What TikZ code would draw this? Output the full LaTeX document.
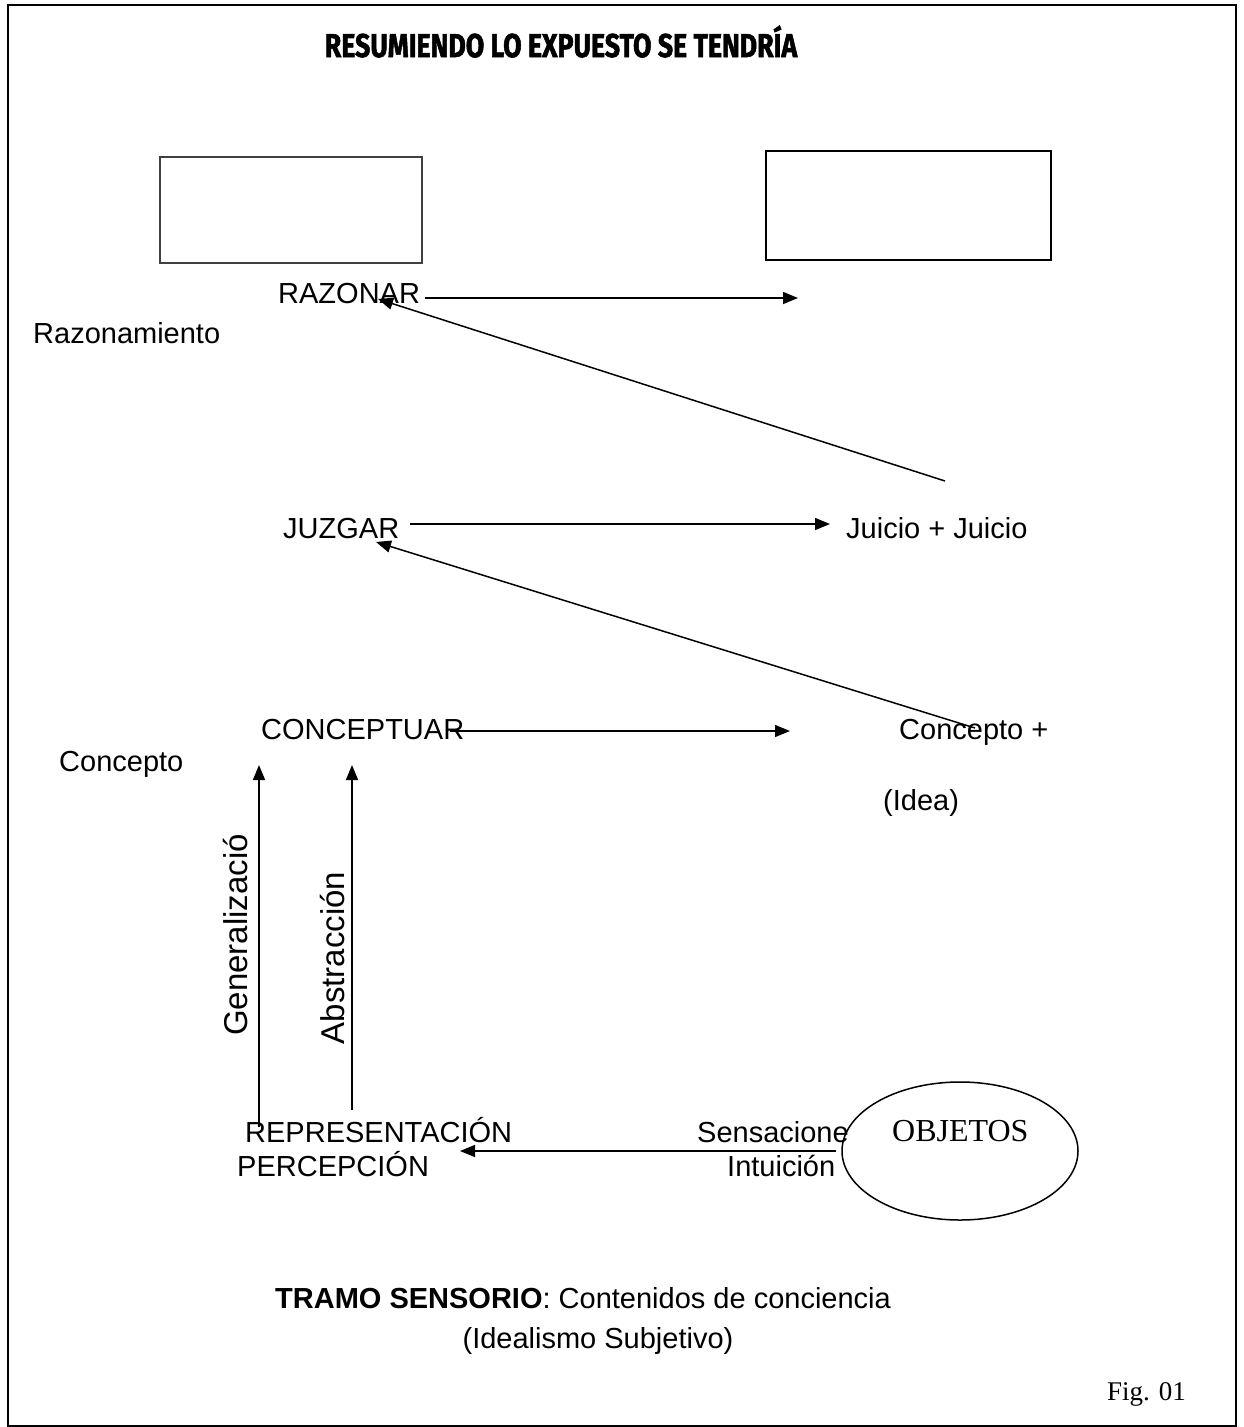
\documentclass[tikz,border=0pt]{standalone}
\usepackage{fontspec}
\setmainfont{Liberation Sans}
\newfontfamily\serifface{Liberation Serif}
\newfontfamily\titleface{Fira Sans}[BoldFeatures={FakeBold=1.8}]
\usetikzlibrary{arrows.meta,shapes.geometric}
\begin{document}
\begin{tikzpicture}[x=1pt,y=-1pt,
  lbl/.style={inner sep=0pt,anchor=base west,font=\fontsize{29}{34}\selectfont},
  sidelbl/.style={inner sep=0pt,rotate=90,font=\fontsize{33}{38}\selectfont},
  flow/.style={line width=1.5pt,-{Triangle[length=15pt,width=12pt]}},
  emptybox/.style={draw,line width=1.5pt},
]
\useasboundingbox (0,0) rectangle (1243,1427);
% outer frame
\draw[line width=2pt] (8,5) rectangle (1236,1426);

% title
\node[inner sep=0pt,anchor=base,font=\titleface\bfseries\fontsize{33}{38}\selectfont] (title) at (561,57) {\scalebox{0.81}[1]{RESUMIENDO LO EXPUESTO SE TENDRÍA}};

% empty boxes
\node[emptybox,draw=black!75,minimum width=262pt,minimum height=106pt] (boxL) at (291,210) {};
\node[emptybox,minimum width=285pt,minimum height=109pt] (boxR) at (908.5,205.5) {};

% labels
\node[lbl] (razonar) at (278,303) {RAZONAR};
\node[lbl] (razonamiento) at (33,343) {Razonamiento};
\node[lbl] (juzgar) at (283,538) {JUZGAR};
\node[lbl] (juicio) at (846,538) {Juicio + Juicio};
\node[lbl] (conceptuar) at (261,739) {CONCEPTUAR};
\node[lbl] (conceptomas) at (899,739) {Concepto +};
\node[lbl] (concepto) at (59,771) {Concepto};
\node[lbl] (idea) at (883,810) {(Idea)};
\node[lbl] (repr) at (245,1142) {REPRESENTACIÓN};
\node[lbl] (perc) at (237,1176) {PERCEPCIÓN};
\node[lbl] (sens) at (697,1142) {Sensacione};
\node[lbl] (intu) at (727,1176) {Intuición};
\node[sidelbl] (gen) at (236,935) {Generalizació};
\node[sidelbl] (abs) at (333,958) {Abstracción};

% objects
\node[draw,ellipse,line width=1.5pt,minimum width=236pt,minimum height=138pt] (obj) at (960,1151) {};
\node[inner sep=0pt,anchor=base west,font=\serifface\fontsize{32}{37}\selectfont] (objtxt) at (892,1141) {OBJETOS};

% caption
\node[inner sep=0pt,anchor=base,font=\fontsize{29}{34}\selectfont] (tramo) at (583,1308) {\textbf{TRAMO SENSORIO}: Contenidos de conciencia};
\node[inner sep=0pt,anchor=base,font=\fontsize{29}{34}\selectfont] (ideal) at (598,1348) {(Idealismo Subjetivo)};
\node[inner sep=0pt,anchor=base west,font=\serifface\fontsize{27}{32}\selectfont] (fig) at (1107,1400) {Fig. 01};

% connector end points
\coordinate (razA) at (425,298);
\coordinate (razB) at (798,298);
\coordinate (razT) at (378,299);
\coordinate (juiS) at (945,481);
\coordinate (juzA) at (410,524);
\coordinate (juzB) at (830,524);
\coordinate (juzT) at (376,542);
\coordinate (conS) at (975,728);
\coordinate (conA) at (450,731);
\coordinate (conB) at (790,731);
\coordinate (genS) at (259,1127);
\coordinate (genT) at (259,765);
\coordinate (absS) at (352,1110);
\coordinate (absT) at (352,765);
\coordinate (sensS) at (836,1151);
\coordinate (percT) at (460,1151);

% connectors
\draw[flow] (razA) -- (razB);
\draw[flow] (juiS) -- (razT);
\draw[flow] (juzA) -- (juzB);
\draw[flow] (conS) -- (juzT);
\draw[flow] (conA) -- (conB);
\draw[flow] (genS) -- (genT);
\draw[flow] (absS) -- (absT);
\draw[flow] (sensS) -- (percT);
\end{tikzpicture}
\end{document}
